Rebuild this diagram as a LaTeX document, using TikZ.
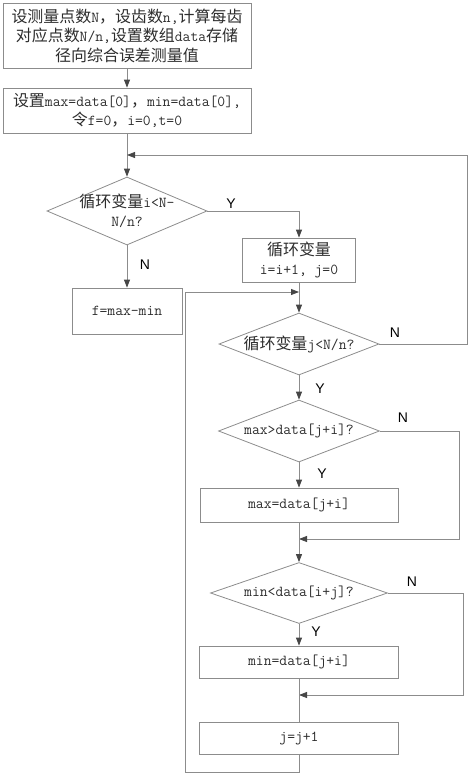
\documentclass[tikz,border=0pt]{standalone}
\usepackage{fontspec}
\newfontfamily\zh{Noto Sans CJK SC}[Scale=1.05]
\newfontfamily\ynfont{Liberation Sans}
\usepackage{xcolor}
\usetikzlibrary{shapes.geometric,arrows.meta}
\definecolor{linegray}{RGB}{140,140,140}
\definecolor{tipgray}{RGB}{70,70,70}
\definecolor{txtgray}{RGB}{45,45,45}

\begin{document}
\begin{tikzpicture}[x=1pt, y=-1pt,
  box/.style={draw=linegray, line width=0.8pt, rectangle, inner sep=0pt, align=center,
    text=txtgray, font=\ttfamily\fontsize{15.2}{19.5}\selectfont},
  dia/.style={draw=linegray, line width=0.8pt, diamond, inner sep=0pt},
  dtxt/.style={align=center, inner sep=0pt, text=txtgray, font=\ttfamily\fontsize{15.2}{18.5}\selectfont},
  yn/.style={inner sep=0pt, font=\ynfont\fontsize{14}{16}\selectfont},
  ln/.style={draw=linegray, line width=0.8pt},
  arr/.style={ln, -{Triangle[length=8pt,width=6pt,color=tipgray]}}]
  \useasboundingbox (0,0) rectangle (474,777);
  % Left column
  \node[box, minimum width=248pt, minimum height=65pt] (init) at (127,35.5)
    {{\zh 设测量点数}N{\zh ，设齿数}n,{\zh 计算每齿}\\{\zh 对应点数}N/n,{\zh 设置数组}data{\zh 存储}\\{\zh 径向综合误差测量值}};
  \node[box, minimum width=248pt, minimum height=45pt] (setv) at (127,110.5)
    {{\zh 设置}max=data[0]{\zh ，}min=data[0],\\{\zh 令}f=0{\zh ，}i=0,t=0};
  \node[dia, minimum width=160pt, minimum height=68pt] (d1) at (127,211) {};
  \node[dtxt] (d1t) at (d1) {{\zh 循环变量}i<N-\\N/n?};
  \node[box, minimum width=110pt, minimum height=46pt] (fbox) at (127,311) {f=max-min};
  % Right column
  \node[box, minimum width=113pt, minimum height=44pt] (incr) at (299,260)
    {{\zh 循环变量}\\i=i+1, j=0};
  \node[dia, minimum width=160pt, minimum height=62pt] (d2) at (299,344) {};
  \node[dtxt] (d2t) at (d2) {{\zh 循环变量}j<N/n?};
  \node[dia, minimum width=161pt, minimum height=62pt] (d3) at (299,431) {};
  \node[dtxt] (d3t) at (d3) {max>data[j+i]?};
  \node[box, minimum width=198pt, minimum height=34pt] (setmax) at (299,505) {max=data[j+i]};
  \node[dia, minimum width=177pt, minimum height=61pt] (d4) at (299,593) {};
  \node[dtxt] (d4t) at (d4) {min<data[i+j]?};
  \node[box, minimum width=199pt, minimum height=32pt] (setmin) at (299,662) {min=data[j+i]};
  \node[box, minimum width=199pt, minimum height=32pt] (incj) at (299,738) {j=j+1};
  % Junctions and corners
  \coordinate (j1) at (127,155);
  \coordinate (j2) at (299,292);
  \coordinate (j3) at (299,539);
  \coordinate (j4) at (299,695);
  \coordinate (r1) at (467,155);
  \coordinate (r2) at (459,539);
  \coordinate (r3) at (463,695);
  \coordinate (l1) at (185,772);
  % Connectors
  \draw[arr] (init) -- (setv);
  \draw[arr] (setv) -- (d1);
  \draw[arr] (d1.east) -| (incr.north);
  \draw[arr] (d1.south) -- (fbox.north);
  \draw[arr] (incr.south) -- (d2.north);
  \draw[arr] (d2.east) -| (r1) -- (j1);
  \draw[arr] (d2.south) -- (d3.north);
  \draw[arr] (d3.east) -| (r2) -- (j3);
  \draw[arr] (d3.south) -- (setmax.north);
  \draw[arr] (setmax.south) -- (d4.north);
  \draw[arr] (d4.east) -| (r3) -- (j4);
  \draw[arr] (d4.south) -- (setmin.north);
  \draw[ln] (setmin.south) -- (incj.north);
  \draw[arr] (incj.south) |- (l1) |- (j2);
  % Y/N labels
  \node[yn] (y1) at (231,204) {Y};
  \node[yn] (n1) at (145,265) {N};
  \node[yn] (n2) at (395,333) {N};
  \node[yn] (y2) at (320,389) {Y};
  \node[yn] (n3) at (403,418) {N};
  \node[yn] (y3) at (322,474) {Y};
  \node[yn] (n4) at (412,582) {N};
  \node[yn] (y4) at (316,632) {Y};
\end{tikzpicture}
\end{document}
